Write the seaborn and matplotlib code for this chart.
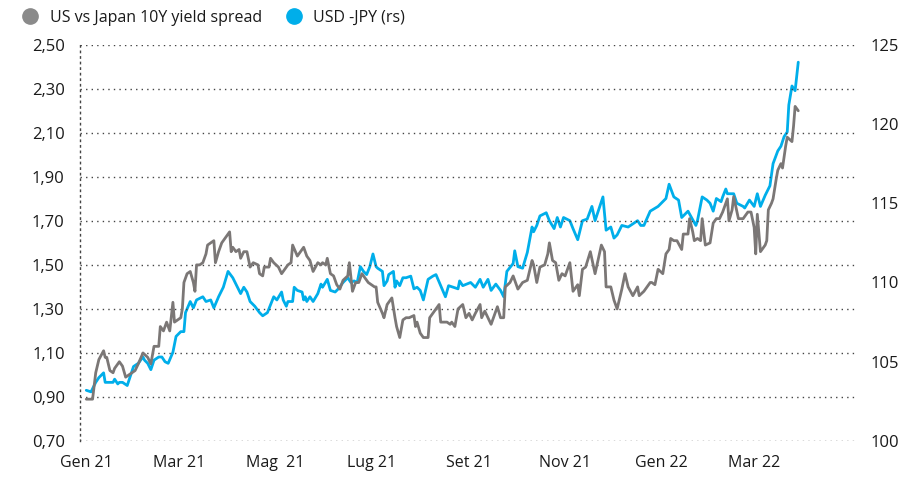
import numpy as np
import pandas as pd
import seaborn as sns
import matplotlib.pyplot as plt
import matplotlib.dates as mdates
from matplotlib.lines import Line2D

# US vs Japan 10Y yield spread (left axis), days counted from 1 Jan 2021
spread_days = [0, 4, 6, 8, 11, 12, 13, 15, 17, 18, 21, 23, 25, 27, 29, 31, 33, 36, 39, 41,
               43, 46, 47, 49, 50, 51, 53, 55, 56, 58, 60, 61, 62, 64, 66, 68, 69, 70, 72, 74,
               76, 77, 81, 82, 84, 86, 90, 91, 92, 93, 95, 97, 98, 100, 102, 104, 106, 109, 110, 112,
               113, 116, 117, 119, 122, 124, 128, 130, 131, 134, 136, 138, 140, 142, 144, 147, 149, 150, 152, 153,
               155, 157, 159, 161, 163, 166, 167, 169, 171, 173, 175, 177, 179, 181, 183, 184, 185, 188, 189, 191,
               192, 194, 196, 197, 199, 201, 203, 205, 208, 209, 210, 212, 214, 217, 218, 222, 224, 225, 229, 231,
               232, 234, 236, 239, 241, 243, 245, 247, 250, 251, 253, 255, 257, 259, 261, 263, 265, 266, 269, 271,
               274, 277, 280, 283, 284, 286, 288, 291, 293, 294, 296, 298, 300, 302, 304, 307, 309, 312, 313, 315,
               317, 320, 323, 327, 329, 330, 333, 335, 337, 340, 342, 344, 347, 350, 351, 354, 356, 358, 359, 361,
               363, 366, 368, 370, 371, 373, 375, 378, 379, 382, 383, 385, 386, 388, 390, 391, 393, 396, 398, 400,
               402, 404, 407, 408, 410, 411, 414, 417, 420, 422, 424, 425, 426, 428, 431, 432, 433, 435, 436, 438,
               439, 441, 442, 444, 445, 448, 449, 450, 452]
spread = [0.89, 0.89, 1.01, 1.07, 1.11, 1.08, 1.08, 1.02, 1.01, 1.03, 1.06, 1.04, 0.99, 1.00, 1.01, 1.02, 1.05, 1.10, 1.08, 1.05,
          1.13, 1.13, 1.22, 1.20, 1.22, 1.24, 1.20, 1.33, 1.24, 1.25, 1.26, 1.30, 1.42, 1.46, 1.47, 1.42, 1.38, 1.50, 1.50, 1.51,
          1.55, 1.59, 1.61, 1.51, 1.56, 1.60, 1.64, 1.65, 1.56, 1.58, 1.56, 1.57, 1.53, 1.56, 1.56, 1.49, 1.51, 1.50, 1.46, 1.45,
          1.49, 1.49, 1.53, 1.51, 1.49, 1.46, 1.50, 1.51, 1.59, 1.54, 1.56, 1.58, 1.54, 1.52, 1.47, 1.51, 1.50, 1.51, 1.50, 1.53,
          1.46, 1.45, 1.41, 1.39, 1.43, 1.45, 1.51, 1.38, 1.42, 1.42, 1.46, 1.44, 1.42, 1.41, 1.40, 1.40, 1.33, 1.28, 1.26, 1.32,
          1.33, 1.35, 1.26, 1.22, 1.17, 1.25, 1.26, 1.26, 1.27, 1.22, 1.24, 1.19, 1.17, 1.17, 1.26, 1.30, 1.32, 1.24, 1.24, 1.23,
          1.24, 1.22, 1.30, 1.32, 1.26, 1.28, 1.25, 1.28, 1.32, 1.26, 1.29, 1.26, 1.23, 1.27, 1.31, 1.26, 1.26, 1.40, 1.42, 1.45,
          1.39, 1.42, 1.43, 1.52, 1.50, 1.42, 1.49, 1.50, 1.55, 1.60, 1.52, 1.51, 1.43, 1.46, 1.45, 1.51, 1.38, 1.41, 1.36, 1.48,
          1.49, 1.56, 1.46, 1.59, 1.56, 1.40, 1.40, 1.34, 1.30, 1.39, 1.46, 1.40, 1.36, 1.40, 1.36, 1.38, 1.40, 1.42, 1.42, 1.41,
          1.48, 1.46, 1.55, 1.57, 1.62, 1.61, 1.61, 1.57, 1.64, 1.64, 1.71, 1.65, 1.61, 1.62, 1.61, 1.71, 1.59, 1.60, 1.69, 1.71,
          1.71, 1.74, 1.80, 1.70, 1.75, 1.81, 1.71, 1.71, 1.74, 1.74, 1.67, 1.55, 1.73, 1.56, 1.59, 1.61, 1.75, 1.78, 1.80, 1.89,
          1.93, 1.96, 1.94, 2.04, 2.08, 2.06, 2.13, 2.22, 2.20]

# USD-JPY (right axis)
usdjpy_days = [0, 3, 6, 8, 11, 12, 14, 17, 18, 20, 21, 23, 26, 28, 30, 33, 36, 37, 39, 41,
               43, 46, 48, 50, 52, 55, 57, 60, 62, 63, 66, 68, 70, 74, 76, 79, 81, 84, 87, 90,
               93, 96, 98, 100, 102, 104, 107, 110, 112, 115, 117, 119, 121, 124, 125, 127, 128, 131, 132, 134,
               137, 138, 139, 140, 142, 144, 147, 149, 150, 153, 155, 158, 160, 163, 164, 166, 168, 170, 172, 174,
               176, 178, 180, 182, 184, 185, 188, 189, 191, 192, 195, 196, 197, 199, 201, 203, 206, 208, 210, 212,
               214, 217, 220, 222, 225, 228, 230, 236, 237, 239, 244, 247, 250, 252, 255, 257, 260, 263, 265, 267,
               271, 272, 274, 277, 280, 283, 284, 286, 288, 292, 294, 297, 299, 301, 303, 307, 309, 312, 315, 318,
               321, 323, 328, 330, 333, 335, 337, 339, 340, 344, 347, 350, 352, 354, 358, 363, 368, 370, 373, 376,
               378, 382, 387, 388, 391, 394, 396, 398, 400, 403, 404, 406, 407, 411, 413, 417, 418, 421, 424, 426,
               428, 431, 434, 436, 439, 441, 443, 445, 446, 448, 450, 452]
usdjpy = [103.2, 103.1, 103.7, 104.0, 104.3, 103.7, 103.7, 103.7, 103.9, 103.6, 103.7, 103.7, 103.5, 104.1, 104.7, 104.9, 105.3, 105.1, 104.9, 104.5,
          105.1, 105.3, 105.3, 105.0, 104.9, 105.6, 106.6, 106.9, 106.9, 108.1, 108.8, 108.4, 108.9, 109.1, 108.8, 108.9, 108.4, 109.1, 109.7, 110.7,
          110.3, 109.7, 109.3, 109.7, 109.4, 108.8, 108.5, 108.1, 107.9, 108.1, 108.6, 109.1, 108.9, 109.4, 108.9, 108.5, 108.8, 108.8, 109.7, 109.5,
          109.4, 108.9, 109.1, 108.8, 109.1, 108.8, 109.3, 109.9, 109.7, 110.2, 109.5, 109.4, 109.6, 110.0, 110.1, 110.3, 110.0, 110.1, 110.0, 111.0,
          110.7, 110.5, 111.0, 111.8, 111.0, 110.9, 110.7, 109.8, 110.1, 110.5, 110.7, 109.7, 110.1, 109.8, 110.3, 110.3, 110.4, 109.6, 109.7, 109.5,
          108.9, 110.2, 110.4, 110.5, 109.8, 109.1, 109.8, 109.6, 110.1, 109.8, 110.0, 109.7, 110.2, 109.7, 110.2, 109.5, 109.9, 109.5, 109.1, 110.7,
          111.2, 112.0, 111.0, 110.9, 111.9, 113.5, 113.2, 113.6, 114.2, 114.4, 113.9, 113.4, 114.1, 113.5, 114.1, 113.9, 113.4, 112.7, 113.9, 114.0,
          114.8, 113.9, 115.4, 113.3, 113.5, 112.8, 113.0, 113.4, 113.6, 113.5, 113.7, 113.9, 113.6, 113.6, 114.5, 114.8, 115.3, 116.2, 115.4, 115.2,
          114.1, 114.5, 113.6, 113.9, 115.4, 115.2, 115.0, 114.5, 115.3, 115.1, 115.4, 115.9, 115.6, 115.6, 115.0, 114.8, 114.7, 115.2, 114.8, 115.6,
          114.8, 115.5, 116.1, 117.5, 118.3, 118.6, 119.2, 119.5, 121.2, 122.4, 122.1, 123.9]

tick_months = ["2021-01-01", "2021-03-01", "2021-05-01", "2021-07-01", "2021-09-01",
               "2021-11-01", "2022-01-01", "2022-03-01"]
tick_labels = ["Gen 21", "Mar 21", "Mag  21", "Lug 21", "Set 21", "Nov 21", "Gen 22", "Mar 22"]

start = pd.Timestamp("2021-01-01")
df_spread = pd.DataFrame({"date": start + pd.to_timedelta(spread_days, unit="D"), "value": spread})
df_jpy = pd.DataFrame({"date": start + pd.to_timedelta(usdjpy_days, unit="D"), "value": usdjpy})

sns.set_style("white")
plt.rcParams["font.family"] = ["Open Sans", "DejaVu Sans"]

gray = "#7b7776"
blue = "#00aeea"
txt = "#1a1a1a"

fig = plt.figure(figsize=(9.15, 4.78), dpi=100)
ax = fig.add_axes([0.0874, 0.0774, 0.847, 0.829])
ax2 = ax.twinx()

sns.lineplot(data=df_spread, x="date", y="value", ax=ax, color=gray, linewidth=2.0, zorder=3)
sns.lineplot(data=df_jpy, x="date", y="value", ax=ax2, color=blue, linewidth=2.0, zorder=2)

ax.set_ylim(0.70, 2.50)
ax.set_yticks(np.arange(0.70, 2.51, 0.20))
ax.set_yticklabels([f"{v:.2f}".replace(".", ",") for v in np.arange(0.70, 2.51, 0.20)])
ax2.set_ylim(100, 125)
ax2.set_yticks([100, 105, 110, 115, 120, 125])

ax.set_xlim(pd.Timestamp("2020-12-28"), pd.Timestamp("2022-05-04"))
ax.set_xticks(pd.to_datetime(tick_months))
ax.set_xticklabels(tick_labels)

ax.yaxis.grid(True, linestyle=(0, (1, 3)), color="#444444", linewidth=1.0)
ax.xaxis.grid(False)
ax2.grid(False)

for a in (ax, ax2):
    for s in a.spines.values():
        s.set_visible(False)
    a.set_xlabel("")
    a.set_ylabel("")
ax.spines["left"].set_visible(True)
ax.spines["left"].set_linestyle((0, (1, 3)))
ax.spines["left"].set_color("#444444")
ax.spines["left"].set_linewidth(1.0)

ax.tick_params(axis="y", length=0, pad=11, labelsize=12, labelcolor=txt)
ax.tick_params(axis="x", length=0, pad=10, labelsize=11.5, labelcolor=txt)
ax2.tick_params(axis="y", length=0, pad=11, labelsize=12, labelcolor=txt)

ax.set_zorder(ax2.get_zorder() + 1)
ax.patch.set_visible(False)

handles = [Line2D([], [], marker="o", linestyle="", markersize=11, color="#8a8a8a"),
           Line2D([], [], marker="o", linestyle="", markersize=11, color=blue)]
fig.legend(handles, ["US vs Japan 10Y yield spread", "USD -JPY (rs)"],
           loc="upper left", bbox_to_anchor=(0.0, 1.01), ncol=2, frameon=False,
           fontsize=11.5, handletextpad=0.2, columnspacing=1.0, labelcolor=txt)

fig.savefig("out.png", dpi=100)
